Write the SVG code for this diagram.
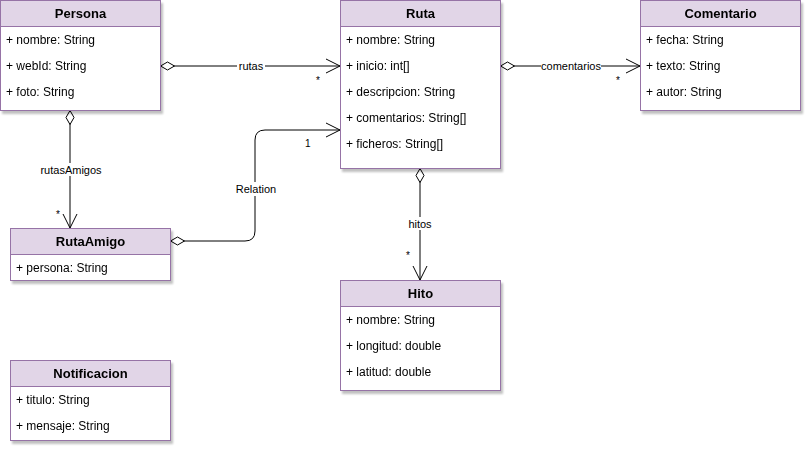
<svg xmlns="http://www.w3.org/2000/svg" width="812" height="453" viewBox="0 0 812 453">
<defs>
<filter id="sh" x="-10%" y="-10%" width="130%" height="130%">
<feGaussianBlur in="SourceAlpha" stdDeviation="1.2"/>
<feOffset dx="2" dy="3" result="b"/>
<feComponentTransfer><feFuncA type="linear" slope="0.25"/></feComponentTransfer>
<feMerge><feMergeNode/><feMergeNode in="SourceGraphic"/></feMerge>
</filter>
<marker id="dia" markerWidth="16" markerHeight="10" refX="0" refY="5" orient="auto" markerUnits="userSpaceOnUse">
<path d="M0.5,5 L7.5,1 L14.5,5 L7.5,9 Z" fill="#fff" stroke="#000" stroke-width="1"/>
</marker>
<marker id="arr" markerWidth="16" markerHeight="16" refX="14" refY="8" orient="auto" markerUnits="userSpaceOnUse">
<path d="M0,1 L14,8 L0,15" fill="none" stroke="#000" stroke-width="1"/>
</marker>
</defs>
<style>
.box{fill:#fff;stroke:#9673a6;stroke-width:1}
.hdr{fill:#e1d5e7;stroke:#9673a6;stroke-width:1}
.title{font-family:"Liberation Sans",Arial,sans-serif;font-size:13px;font-weight:bold;fill:#000;text-anchor:middle}
.attr{font-family:"Liberation Sans",Arial,sans-serif;font-size:12px;fill:#000}
.edge{fill:none;stroke:#000;stroke-width:1}
.lbl{font-family:"Liberation Sans",Arial,sans-serif;font-size:11px;fill:#000;text-anchor:middle}
.lblbg{fill:#fff}
.card{font-family:"Liberation Sans",Arial,sans-serif;font-size:10px;fill:#000}
</style>
<rect width="812" height="453" fill="#fff"/>

<g id="connectors">
<path class="edge" d="M160,66 L340,66" marker-start="url(#dia)" marker-end="url(#arr)"/>
<rect class="lblbg" x="237" y="59" width="28" height="13"/>
<text class="lbl" x="251" y="70">rutas</text>
<text class="card" x="316" y="84">*</text>

<path class="edge" d="M500,66 L640,66" marker-start="url(#dia)" marker-end="url(#arr)"/>
<rect class="lblbg" x="541" y="59" width="60" height="13"/>
<text class="lbl" x="571" y="70">comentarios</text>
<text class="card" x="616" y="84">*</text>

<path class="edge" d="M70,110 L70,228" marker-start="url(#dia)" marker-end="url(#arr)"/>
<rect class="lblbg" x="40" y="163" width="63" height="13"/>
<text class="lbl" x="71" y="174">rutasAmigos</text>
<text class="card" x="56" y="218">*</text>

<path class="edge" d="M170,241 L245,241 Q255,241 255,231 L255,140 Q255,130 265,130 L340,130" marker-start="url(#dia)" marker-end="url(#arr)"/>
<rect class="lblbg" x="234" y="182" width="44" height="14"/>
<text class="lbl" x="256" y="193">Relation</text>
<text class="card" x="305" y="147">1</text>

<path class="edge" d="M420,168 L420,280" marker-start="url(#dia)" marker-end="url(#arr)"/>
<rect class="lblbg" x="407" y="217" width="27" height="13"/>
<text class="lbl" x="420" y="228">hitos</text>
<text class="card" x="406" y="259">*</text>
</g>

<g id="Persona" filter="url(#sh)">
<rect class="box" x="0.5" y="0.5" width="160" height="110"/>
<rect class="hdr" x="0.5" y="0.5" width="160" height="26"/>
<text class="title" x="80.5" y="18">Persona</text>
<text class="attr" x="6" y="44">+ nombre: String</text>
<text class="attr" x="6" y="70">+ webId: String</text>
<text class="attr" x="6" y="96">+ foto: String</text>
</g>

<g id="Ruta" filter="url(#sh)">
<rect class="box" x="340.5" y="0.5" width="160" height="168"/>
<rect class="hdr" x="340.5" y="0.5" width="160" height="26"/>
<text class="title" x="420.5" y="18">Ruta</text>
<text class="attr" x="346" y="44">+ nombre: String</text>
<text class="attr" x="346" y="70">+ inicio: int[]</text>
<text class="attr" x="346" y="96">+ descripcion: String</text>
<text class="attr" x="346" y="122">+ comentarios: String[]</text>
<text class="attr" x="346" y="148">+ ficheros: String[]</text>
</g>

<g id="Comentario" filter="url(#sh)">
<rect class="box" x="640.5" y="0.5" width="160" height="110"/>
<rect class="hdr" x="640.5" y="0.5" width="160" height="26"/>
<text class="title" x="720.5" y="18">Comentario</text>
<text class="attr" x="646" y="44">+ fecha: String</text>
<text class="attr" x="646" y="70">+ texto: String</text>
<text class="attr" x="646" y="96">+ autor: String</text>
</g>

<g id="RutaAmigo" filter="url(#sh)">
<rect class="box" x="10.5" y="228.5" width="160" height="52"/>
<rect class="hdr" x="10.5" y="228.5" width="160" height="26"/>
<text class="title" x="90.5" y="246">RutaAmigo</text>
<text class="attr" x="16" y="272">+ persona: String</text>
</g>

<g id="Hito" filter="url(#sh)">
<rect class="box" x="340.5" y="280.5" width="160" height="110"/>
<rect class="hdr" x="340.5" y="280.5" width="160" height="26"/>
<text class="title" x="420.5" y="298">Hito</text>
<text class="attr" x="346" y="324">+ nombre: String</text>
<text class="attr" x="346" y="350">+ longitud: double</text>
<text class="attr" x="346" y="376">+ latitud: double</text>
</g>

<g id="Notificacion" filter="url(#sh)">
<rect class="box" x="10.5" y="360.5" width="160" height="80"/>
<rect class="hdr" x="10.5" y="360.5" width="160" height="26"/>
<text class="title" x="90.5" y="378">Notificacion</text>
<text class="attr" x="16" y="404">+ titulo: String</text>
<text class="attr" x="16" y="430">+ mensaje: String</text>
</g>
</svg>
